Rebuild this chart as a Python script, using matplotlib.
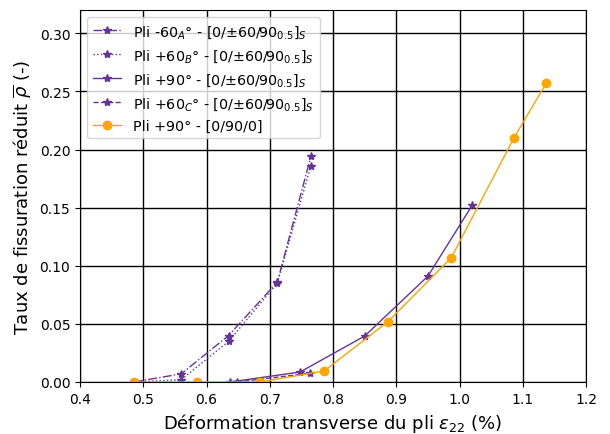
import matplotlib
matplotlib.use("Agg")
import matplotlib.pyplot as plt

purple = "#663399"
orange = "#FFA500"

# Series data
xA = [0.485, 0.560, 0.635, 0.712, 0.765]
yA = [0.0, 0.007, 0.040, 0.086, 0.194]
xB = [0.485, 0.560, 0.635, 0.712, 0.765]
yB = [0.0, 0.002, 0.035, 0.085, 0.186]
x90 = [0.637, 0.748, 0.850, 0.950, 1.020]
y90 = [0.0, 0.0086, 0.0395, 0.091, 0.152]
xC = [0.648, 0.764]
yC = [0.0, 0.0075]
xO = [0.485, 0.585, 0.685, 0.786, 0.887, 0.987, 1.086, 1.137]
yO = [0.0, 0.0, 0.0, 0.0095, 0.052, 0.107, 0.210, 0.257]

labels = [
    r"Pli -60$_A$° - [0/±60/90$_{0.5}$]$_S$",
    r"Pli +60$_B$° - [0/±60/90$_{0.5}$]$_S$",
    r"Pli +90° - [0/±60/90$_{0.5}$]$_S$",
    r"Pli +60$_C$° - [0/±60/90$_{0.5}$]$_S$",
    r"Pli +90° - [0/90/0]",
]

fig = plt.figure(figsize=(6.1, 4.35), dpi=100)
ax = fig.add_axes([80/610, 1-383/435, 506/610, 372/435])

ax.plot(xA, yA, ls="-.", marker="*", color=purple, lw=1, ms=6, label=labels[0])
ax.plot(xB, yB, ls=":", marker="*", color=purple, lw=1, ms=6, label=labels[1])
ax.plot(x90, y90, ls="-", marker="*", color=purple, lw=1, ms=6, label=labels[2])
ax.plot(xC, yC, ls="--", marker="*", color=purple, lw=1, ms=6, label=labels[3])
ax.plot(xO, yO, ls="-", marker="o", color=orange, lw=1, ms=6, label=labels[4])

ax.set_xlim(0.4, 1.2)
ax.set_ylim(0, 0.32)
ax.set_xticks([0.4, 0.5, 0.6, 0.7, 0.8, 0.9, 1.0, 1.1, 1.2])
ax.set_yticks([0.0, 0.05, 0.10, 0.15, 0.20, 0.25, 0.30])
ax.yaxis.set_major_formatter(matplotlib.ticker.FormatStrFormatter("%.2f"))
ax.xaxis.set_major_formatter(matplotlib.ticker.FormatStrFormatter("%.1f"))
ax.tick_params(labelsize=10)
ax.grid(True, color="black", lw=1)
ax.set_axisbelow(True)
ax.set_xlabel(r"Déformation transverse du pli $\varepsilon_{22}$ (%)", fontsize=13)
ax.set_ylabel(r"Taux de fissuration réduit $\overline{\rho}$ (-)", fontsize=13)
ax.legend(loc="upper left", fontsize=10.3)

fig.savefig("out.png", dpi=100)
